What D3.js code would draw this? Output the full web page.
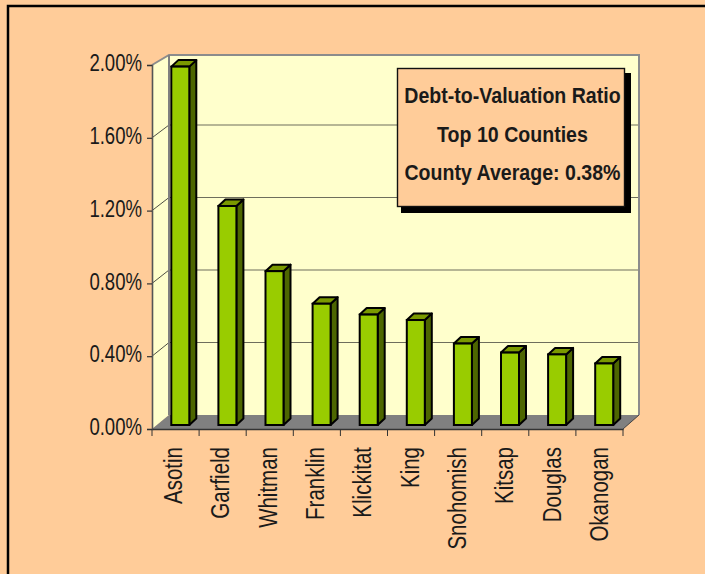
<!DOCTYPE html>
<html>
<head>
<meta charset="utf-8">
<script src="https://cdn.jsdelivr.net/npm/d3@7"></script>
<style>
    html, body { margin: 0; padding: 0; background: #fff; }
    text { font-family: "Liberation Sans", sans-serif; fill: #1a1a1a; }
</style>
</head>
<body>
<svg id="chart" width="705" height="574"></svg>
<script>
let counties = ["Asotin", "Garfield", "Whitman", "Franklin", "Klickitat", "King", "Snohomish", "Kitsap", "Douglas", "Okanogan"];
let ratios = [1.98, 1.21, 0.85, 0.67, 0.61, 0.58, 0.45, 0.40, 0.39, 0.34];
let tickValues = [0, 0.4, 0.8, 1.2, 1.6, 2.0];
let boxLines = ["Debt-to-Valuation Ratio", "Top 10 Counties", "County Average: 0.38%"];

let svg = d3.select('#chart');

// background and frame
svg.append('rect').attr('width', 705).attr('height', 574).attr('fill', '#ffcc99');
svg.append('path').attr('d', 'M8,574V6H705')
    .attr('fill', 'none').attr('stroke', '#000').attr('stroke-width', 2.5);

// front plane scales, the back wall is the same thing moved by depth
let scX = d3.scaleBand().domain(counties).range([152, 623]);
let scY = d3.scaleLinear().domain([0, 2]).range([429, 65]);
let backY = d3.scaleLinear().domain([0, 2]).range([415, 52.5]);
let labelX = d3.scalePoint().domain(counties).range([182, 608]);
let wallTop = 55;

// walls
svg.append('rect').attr('x', 169).attr('y', wallTop)
    .attr('width', 470).attr('height', backY(0) - wallTop).attr('fill', '#ffffcc');
svg.append('path')
    .attr('d', `M152,${scY(2)}L169,${wallTop}V${backY(0)}L152,${scY(0)}Z`)
    .attr('fill', '#ffffcc');
svg.append('path')
    .attr('d', `M152,${scY(0)}L169,${backY(0)}H639L623,${scY(0)}Z`)
    .attr('fill', '#808080');

// gridlines over back wall and side wall
svg.selectAll('line.grid').data(tickValues.slice(1, 5)).enter().append('line')
    .attr('class', 'grid')
    .attr('x1', 169).attr('x2', 639)
    .attr('y1', d => backY(d)).attr('y2', d => backY(d))
    .attr('stroke', '#6e6e5c').attr('stroke-width', 1.2);
svg.selectAll('line.side').data(tickValues.slice(1, 5)).enter().append('line')
    .attr('class', 'side')
    .attr('x1', 152).attr('x2', 169)
    .attr('y1', d => scY(d)).attr('y2', d => backY(d))
    .attr('stroke', '#222').attr('stroke-width', 0.8);

// wall outline
svg.append('path')
    .attr('d', `M152,${scY(2)}L169,${wallTop}H639V${backY(0)}`)
    .attr('fill', 'none').attr('stroke', '#8c8c8c').attr('stroke-width', 2);
svg.append('path')
    .attr('d', `M169,${wallTop}V${backY(0)}`)
    .attr('fill', 'none').attr('stroke', '#808080').attr('stroke-width', 2);
svg.append('path')
    .attr('d', `M623,${scY(0)}L639,${backY(0)}`)
    .attr('fill', 'none').attr('stroke', '#444').attr('stroke-width', 1);

// axes
let yAxis = d3.axisLeft(scY).tickValues(tickValues).tickFormat(d => d.toFixed(2) + '%').tickSize(5).tickPadding(0);
let gy = svg.append('g').attr('transform', 'translate(152,0)').call(yAxis);
gy.select('.domain').attr('stroke', '#555').attr('stroke-width', 1.6);
gy.selectAll('.tick line').attr('stroke', '#333').attr('stroke-width', 1.2);
// no narrow font installed, squeeze the regular one
gy.selectAll('text')
    .attr('font-size', 23.5).attr('x', 0).attr('y', 0).attr('dy', null)
    .style('font-family', '"Liberation Sans", sans-serif').style('fill', '#1a1a1a')
    .attr('transform', 'translate(-10,5.7) scale(0.79,1)');

let xAxis = d3.axisBottom(scX).tickSize(0).tickValues([]);
let gx = svg.append('g').attr('transform', `translate(0,${scY(0)})`).call(xAxis);
gx.select('.domain').attr('stroke', '#333').attr('stroke-width', 1.4);
svg.selectAll('line.xtick').data(counties.concat(['end'])).enter().append('line')
    .attr('class', 'xtick')
    .attr('x1', (d, i) => 152 + i * scX.step()).attr('x2', (d, i) => 152 + i * scX.step())
    .attr('y1', scY(0)).attr('y2', scY(0) + 7)
    .attr('stroke', '#333').attr('stroke-width', 1);

svg.selectAll('text.county').data(counties).enter().append('text')
    .attr('class', 'county')
    .attr('transform', d => `translate(${labelX(d)},447) rotate(-90) scale(0.82,1)`)
    .attr('text-anchor', 'end')
    .attr('font-size', 25)
    .text(d => d);

// bars: 3D column = front face + side + top
let barW = 18, barDx = 7, barDy = 6.5, barBase = 425;
let barPx = d3.scaleLinear().domain([0, 2]).range([barBase, barBase - 362]);
let bars = svg.selectAll('g.bar').data(counties).enter().append('g').attr('class', 'bar')
    .attr('transform', d => `translate(${scX(d) + 19.3},0)`);
bars.append('path')
    .attr('d', (d, i) => `M${barW},${barBase}V${barPx(ratios[i])}l${barDx},${-barDy}V${barBase - barDy}Z`)
    .attr('fill', '#4d6600').attr('stroke', '#000').attr('stroke-width', 2).attr('stroke-linejoin', 'round');
bars.append('path')
    .attr('d', (d, i) => `M0,${barPx(ratios[i])}l${barDx},${-barDy}H${barW + barDx}l${-barDx},${barDy}Z`)
    .attr('fill', '#7a9900').attr('stroke', '#000').attr('stroke-width', 2).attr('stroke-linejoin', 'round');
bars.append('rect')
    .attr('x', 0).attr('y', (d, i) => barPx(ratios[i]))
    .attr('width', barW).attr('height', (d, i) => barBase - barPx(ratios[i]))
    .attr('fill', '#99cc00').attr('stroke', '#000').attr('stroke-width', 2);

// title box
svg.append('rect').attr('x', 401).attr('y', 73).attr('width', 230).attr('height', 140).attr('fill', '#000');
svg.append('rect').attr('x', 397.5).attr('y', 68.5).attr('width', 227).attr('height', 138)
    .attr('fill', '#ffcc99').attr('stroke', '#111').attr('stroke-width', 1.4);
let boxY = d3.scalePoint().domain(boxLines).range([103, 180]);
svg.selectAll('text.box').data(boxLines).enter().append('text')
    .attr('class', 'box')
    .attr('transform', d => `translate(512.5,${boxY(d)}) scale(0.89,1)`)
    .attr('text-anchor', 'middle')
    .attr('font-size', 22).attr('font-weight', 'bold')
    .text(d => d);
</script>
</body>
</html>
